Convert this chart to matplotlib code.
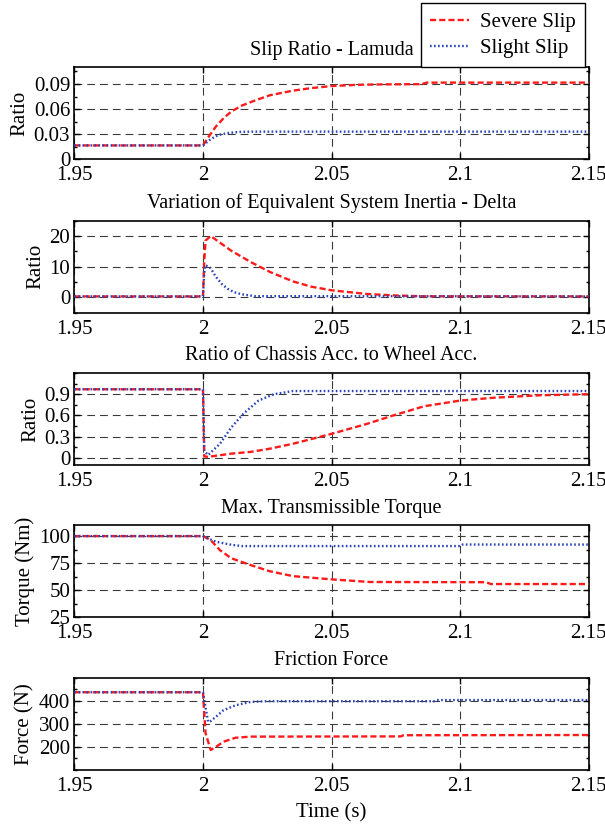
import numpy as np
import matplotlib
matplotlib.use('Agg')
import matplotlib.pyplot as plt
from matplotlib.ticker import MultipleLocator

plt.rcParams['font.family'] = ['Liberation Serif', 'DejaVu Serif']
plt.rcParams['mathtext.fontset'] = 'stix'

# slip ratio - lamuda
t_slip_sev = [1.95, 2.0, 2.002, 2.005, 2.008, 2.011, 2.015, 2.02, 2.026, 2.035, 2.042,
              2.05, 2.06, 2.07, 2.085, 2.087, 2.15]
slip_sev = [0.0165, 0.0165, 0.026, 0.039, 0.049, 0.057, 0.064, 0.070, 0.0765, 0.082, 0.085,
            0.0875, 0.089, 0.0895, 0.0898, 0.0916, 0.0916]
t_slip_sli = [1.95, 2.0, 2.003, 2.006, 2.01, 2.015, 2.02, 2.15]
slip_sli = [0.0165, 0.0165, 0.024, 0.029, 0.0315, 0.0328, 0.033, 0.033]

# variation of equivalent inertia - delta
t_delta_sev = [1.95, 2.0, 2.0005, 2.001, 2.003, 2.006, 2.011, 2.0186, 2.026, 2.035, 2.042,
               2.05, 2.0637, 2.075, 2.086, 2.15]
delta_sev = [0.3, 0.3, 12, 18.5, 20, 18.2, 15.2, 11.5, 8.3, 5.2, 3.5, 2.3, 1.1, 0.6, 0.35, 0.3]
t_delta_sli = [1.95, 2.0, 2.0005, 2.001, 2.003, 2.005, 2.0075, 2.0096, 2.012, 2.015, 2.02, 2.15]
delta_sli = [0.3, 0.3, 8, 10.5, 9.5, 6.7, 4.2, 2.8, 1.7, 1.0, 0.4, 0.3]

# chassis acc / wheel acc
t_acc_sev = [1.95, 2.0, 2.0005, 2.002, 2.011, 2.0186, 2.026, 2.035, 2.05, 2.0637, 2.074,
             2.086, 2.1, 2.113, 2.131, 2.15]
acc_sev = [0.97, 0.97, 0.02, 0.015, 0.06, 0.085, 0.13, 0.2, 0.34, 0.48, 0.6, 0.73, 0.81,
           0.85, 0.885, 0.9]
t_acc_sli = [1.95, 2.0, 2.0005, 2.002, 2.0066, 2.011, 2.0156, 2.0216, 2.0276, 2.035, 2.15]
acc_sli = [0.97, 0.97, 0.1, 0.04, 0.2, 0.43, 0.62, 0.81, 0.9, 0.945, 0.945]

# max transmissible torque
t_tq_sev = [1.95, 2.0, 2.003, 2.0066, 2.011, 2.0186, 2.026, 2.035, 2.05, 2.065, 2.11, 2.112, 2.15]
tq_sev = [100, 100, 96.3, 87, 79.5, 73.2, 67.5, 63, 60, 57.6, 57.4, 55.7, 55.7]
t_tq_sli = [1.95, 2.0, 2.005, 2.011, 2.015, 2.1, 2.101, 2.15]
tq_sli = [100, 100, 94.8, 92, 90.8, 90.8, 92.2, 92.2]

# friction force
t_f_sev = [1.95, 2.0, 2.001, 2.003, 2.005, 2.008, 2.0126, 2.0186, 2.077, 2.078, 2.15]
f_sev = [438, 438, 260, 187, 200, 223, 240, 245, 246, 251, 252]
t_f_sli = [1.95, 2.0, 2.002, 2.0029, 2.005, 2.008, 2.0126, 2.0186, 2.025, 2.09, 2.091, 2.15]
f_sli = [438, 438, 309, 312, 331, 360, 381, 396, 399, 399, 404, 404]

titles = ['Slip Ratio - Lamuda', 'Variation of Equivalent System Inertia - Delta',
          'Ratio of Chassis Acc. to Wheel Acc.', 'Max. Transmissible Torque', 'Friction Force']
ylabels = ['Ratio', 'Ratio', 'Ratio', 'Torque (Nm)', 'Force (N)']
xticks = [1.95, 2.0, 2.05, 2.1, 2.15]
xticklabels = ['1.95', '2', '2.05', '2.1', '2.15']
yticks = [[0, 0.03, 0.06, 0.09], [0, 10, 20], [0, 0.3, 0.6, 0.9], [25, 50, 75, 100],
          [200, 300, 400]]
yticklabels = [['0', '0.03', '0.06', '0.09'], ['0', '10', '20'], ['0', '0.3', '0.6', '0.9'],
               ['25', '50', '75', '100'], ['200', '300', '400']]
ylims = [(0, 0.11), (-5, 25), (-0.1, 1.2), (25, 110), (100, 500)]
series = [(t_slip_sev, slip_sev, t_slip_sli, slip_sli),
          (t_delta_sev, delta_sev, t_delta_sli, delta_sli),
          (t_acc_sev, acc_sev, t_acc_sli, acc_sli),
          (t_tq_sev, tq_sev, t_tq_sli, tq_sli),
          (t_f_sev, f_sev, t_f_sli, f_sli)]

red = '#ff1a1a'
blue = '#2a44b8'

fig = plt.figure(figsize=(6.05, 8.25), dpi=100)
bottoms = [0.807, 0.621, 0.4364, 0.2518, 0.0667]
height = 0.1115

for i in range(5):
    ax = fig.add_axes([0.123, bottoms[i], 0.850, height])
    ts, ys, tl, yl = series[i]
    h1, = ax.plot(ts, ys, color=red, lw=1.7, linestyle=(0, (2.6, 1.3)), label='Severe Slip',
                  zorder=3)
    h2, = ax.plot(tl, yl, color=blue, lw=1.7, linestyle=(0, (0.7, 1.0)), label='Slight Slip',
                  zorder=4)
    ax.set_xlim(1.95, 2.15)
    ax.set_ylim(*ylims[i])
    ax.set_xticks(xticks)
    ax.set_xticklabels(xticklabels)
    ax.set_yticks(yticks[i])
    ax.set_yticklabels(yticklabels[i])
    step = yticks[i][1] - yticks[i][0]
    ax.yaxis.set_minor_locator(MultipleLocator(step / 2))
    ax.grid(True, which='major', linestyle=(0, (7, 4.5)), color='#3a3a3a', linewidth=0.8)
    ax.tick_params(which='both', direction='in', top=True, right=True, labelsize=15,
                   width=1, pad=3)
    ax.tick_params(axis='x', which='major', pad=5)
    ax.tick_params(which='major', length=4)
    ax.tick_params(which='minor', length=2.5)
    ax.tick_params(axis='x', which='minor', bottom=False, top=False)
    for s in ax.spines.values():
        s.set_linewidth(1.2)
    ax.set_title(titles[i], fontsize=14.5, pad=9)
    ax.set_ylabel(ylabels[i], fontsize=15, labelpad=3)
    if i == 4:
        ax.set_xlabel('Time (s)', fontsize=15, labelpad=5)

fig.legend([h1, h2], ['Severe Slip', 'Slight Slip'], loc='upper right',
           bbox_to_anchor=(0.967, 0.996), fontsize=15, fancybox=False, framealpha=1,
           edgecolor='black', borderpad=0.45, labelspacing=0.3, handlelength=1.9,
           handletextpad=0.5, borderaxespad=0)

fig.savefig('out.png', dpi=100)
